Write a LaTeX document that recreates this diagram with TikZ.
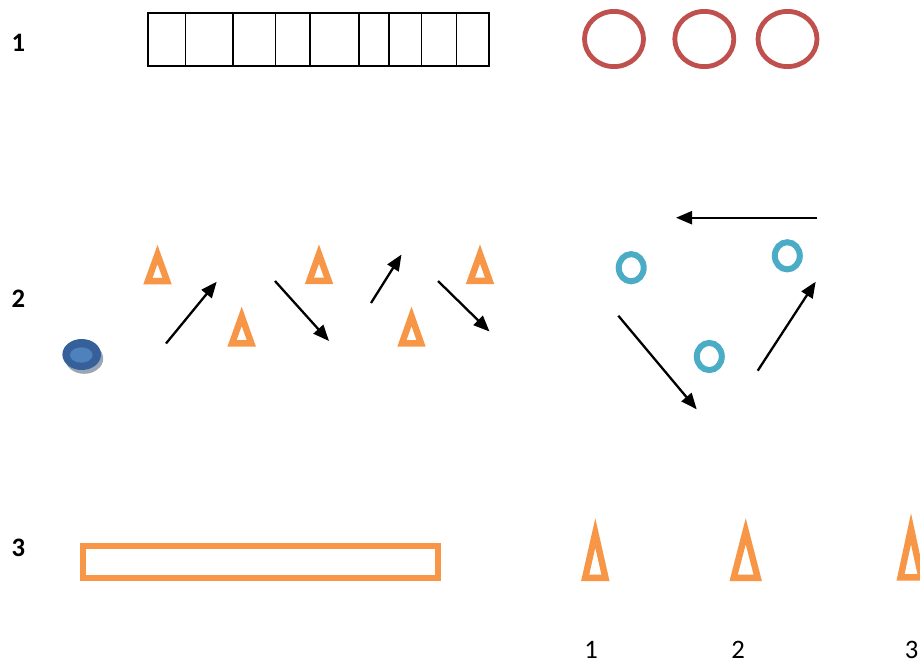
\documentclass[tikz,border=0pt]{standalone}
\usepackage{fontspec}
\setmainfont{Carlito}
\usetikzlibrary{arrows.meta}
\definecolor{conec}{HTML}{F79646}
\definecolor{ringred}{HTML}{C0504D}
\definecolor{ringcyan}{HTML}{4BACC6}
\definecolor{puckdark}{HTML}{35609A}
\definecolor{pucklight}{HTML}{4F81BD}
\definecolor{puckshadow}{HTML}{9AA5B5}
\newcommand\conepic[4]{%
  \begin{scope}
    \clip (#1,#2) -- (#1-#3,#2+#4) -- (#1+#3,#2+#4) -- cycle;
    \draw[conec, line width=13pt, miter limit=20] (#1,#2) -- (#1-#3,#2+#4) -- (#1+#3,#2+#4) -- cycle;
  \end{scope}}
\tikzset{
  arr/.style={line width=2.3pt, -{Triangle[length=16pt,width=13pt]}},
  redring/.style={draw=ringred, line width=4.8pt},
  cyanring/.style={draw=ringcyan, line width=6pt},
  rowlabel/.style={font=\fontsize{26.67}{32}\selectfont\bfseries, anchor=base, inner sep=0pt},
  numlabel/.style={font=\fontsize{26.67}{32}\selectfont, anchor=base, inner sep=0pt},
  gridline/.style={line width=1.4pt}
}
\begin{document}
\begin{tikzpicture}[x=1pt,y=-1pt]
\useasboundingbox (0,0) rectangle (920,665);
\fill[white] (0,0) rectangle (920,665);

% row labels
\node[rowlabel] (r1) at (18.3,51.7) {1};
\node[rowlabel] (r2) at (18.3,307.7) {2};
\node[rowlabel] (r3) at (18.3,556.7) {3};

% row 1: grid
\draw[gridline] (147.8,12.8) rectangle (488.8,65.8);
\foreach \xx in {185.5,232.8,275.2,310,359,389,421.5,456.5}
  \draw[gridline] (\xx,12.8) -- (\xx,65.8);

% row 1: red rings
\draw[redring] (614,39) ellipse [x radius=29.5, y radius=27.6];
\draw[redring] (704.3,39) ellipse [x radius=29.5, y radius=27.6];
\draw[redring] (787.5,39) ellipse [x radius=29.5, y radius=27.6];

% row 2: puck
\fill[puckshadow] (84.2,358.5) ellipse [x radius=19, y radius=15.3];
\fill[puckdark] (81.7,354.5) ellipse [x radius=19.3, y radius=15.5];
\fill[pucklight] (81.3,355) ellipse [x radius=11.3, y radius=7.7];

% row 2: cones
\conepic{157.5}{245}{14.2}{39.3}
\conepic{241.7}{306.7}{14.3}{40}
\conepic{319}{244.5}{14.2}{39.5}
\conepic{411.5}{306.7}{14.2}{40}
\conepic{480}{244.5}{14.2}{39.5}

% row 2: zigzag arrows
\coordinate (a1s) at (166,343.5); \coordinate (a1e) at (216.7,281.7);
\coordinate (a2s) at (275,281); \coordinate (a2e) at (329,341);
\coordinate (a3s) at (371,303); \coordinate (a3e) at (401.5,254.5);
\coordinate (a4s) at (438,281); \coordinate (a4e) at (489.5,331.5);
\draw[arr] (a1s) -- (a1e);
\draw[arr] (a2s) -- (a2e);
\draw[arr] (a3s) -- (a3e);
\draw[arr] (a4s) -- (a4e);

% row 2: cyan rings
\draw[cyanring] (631.2,267.7) ellipse [x radius=12.5, y radius=13.6];
\draw[cyanring] (787.3,255.8) ellipse [x radius=12.5, y radius=13.6];
\draw[cyanring] (709.3,356.5) ellipse [x radius=12.5, y radius=13.6];

% row 2: triangle arrows
\coordinate (b1s) at (817.3,217.7); \coordinate (b1e) at (676,217.7);
\coordinate (b2s) at (618.3,315.7); \coordinate (b2e) at (696.7,409.3);
\coordinate (b3s) at (757.7,370.7); \coordinate (b3e) at (815.7,281.7);
\draw[arr] (b1s) -- (b1e);
\draw[arr] (b2s) -- (b2e);
\draw[arr] (b3s) -- (b3e);

% row 3: bar
\draw[conec, line width=6pt] (83,546.3) rectangle (438,578);

% row 3: tall cones
\conepic{595.3}{518.3}{14.2}{62.7}
\conepic{745.7}{518.3}{16.2}{62.7}
\begin{scope}
  \clip (0,0) rectangle (920,665);
  \conepic{911}{513.3}{14.5}{67.4}
\end{scope}

% row 3: numbers
\node[numlabel] (n1) at (591,658) {1};
\node[numlabel] (n2) at (738,658) {2};
\node[numlabel] (n3) at (911.5,658) {3};
\end{tikzpicture}
\end{document}
